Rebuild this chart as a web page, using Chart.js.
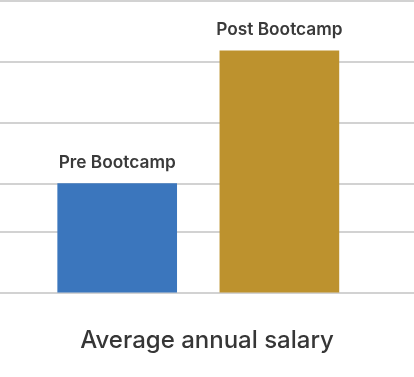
<!DOCTYPE html>
<html>
<head>
<meta charset="utf-8">
<script src="https://cdn.jsdelivr.net/npm/chart.js@4"></script>
<style>
  html, body { margin: 0; padding: 0; background: #ffffff; }
  #wrap { width: 414px; height: 377px; position: relative; }
</style>
</head>
<body>
<div id="wrap"><canvas id="c"></canvas></div>
<script>
const categories = ['Pre Bootcamp', 'Post Bootcamp'];
const salaries = [45, 99.5];
const gridValues = [0, 25, 45, 70, 95, 120];
const barColors = ['#3b76bd', '#bd922e'];
const chartTitle = 'Average annual salary';

const FONT = 'Inter, "Open Sans", sans-serif';

const barLabels = {
  id: 'barLabels',
  afterDatasetsDraw(chart) {
    const ctx = chart.ctx;
    const meta = chart.getDatasetMeta(0);
    ctx.save();
    ctx.font = '600 17.3px ' + FONT;
    ctx.fillStyle = '#3a3a3a';
    ctx.textAlign = 'center';
    ctx.textBaseline = 'alphabetic';
    meta.data.forEach((bar, i) => {
      ctx.fillText(categories[i], bar.x, bar.y - 16);
    });
    ctx.restore();
  }
};

new Chart(document.getElementById('c'), {
  type: 'bar',
  data: {
    datasets: [{
      data: categories.map((c, i) => ({ x: i, y: salaries[i] })),
      backgroundColor: barColors,
      barThickness: 119,
      borderWidth: 0
    }]
  },
  options: {
    responsive: true,
    maintainAspectRatio: false,
    animation: false,
    layout: { padding: { top: 1, bottom: 12, left: 0, right: 0 } },
    plugins: {
      legend: { display: false },
      tooltip: { enabled: false },
      title: {
        display: true,
        position: 'bottom',
        text: chartTitle,
        color: '#363636',
        font: { family: FONT, size: 24, weight: '500', lineHeight: 1.2 },
        padding: { top: 33, bottom: 10 }
      }
    },
    scales: {
      x: {
        type: 'linear',
        display: false,
        offset: false,
        min: -0.7226,
        max: 1.830
      },
      y: {
        min: 0,
        max: 120,
        afterBuildTicks: (scale) => { scale.ticks = gridValues.map(v => ({ value: v })); },
        afterFit: (scale) => { scale.width = 0; },
        ticks: { display: false },
        border: { display: false },
        grid: { color: '#d2d2d2', lineWidth: 2, drawTicks: false }
      }
    }
  },
  plugins: [barLabels]
});
</script>
</body>
</html>
